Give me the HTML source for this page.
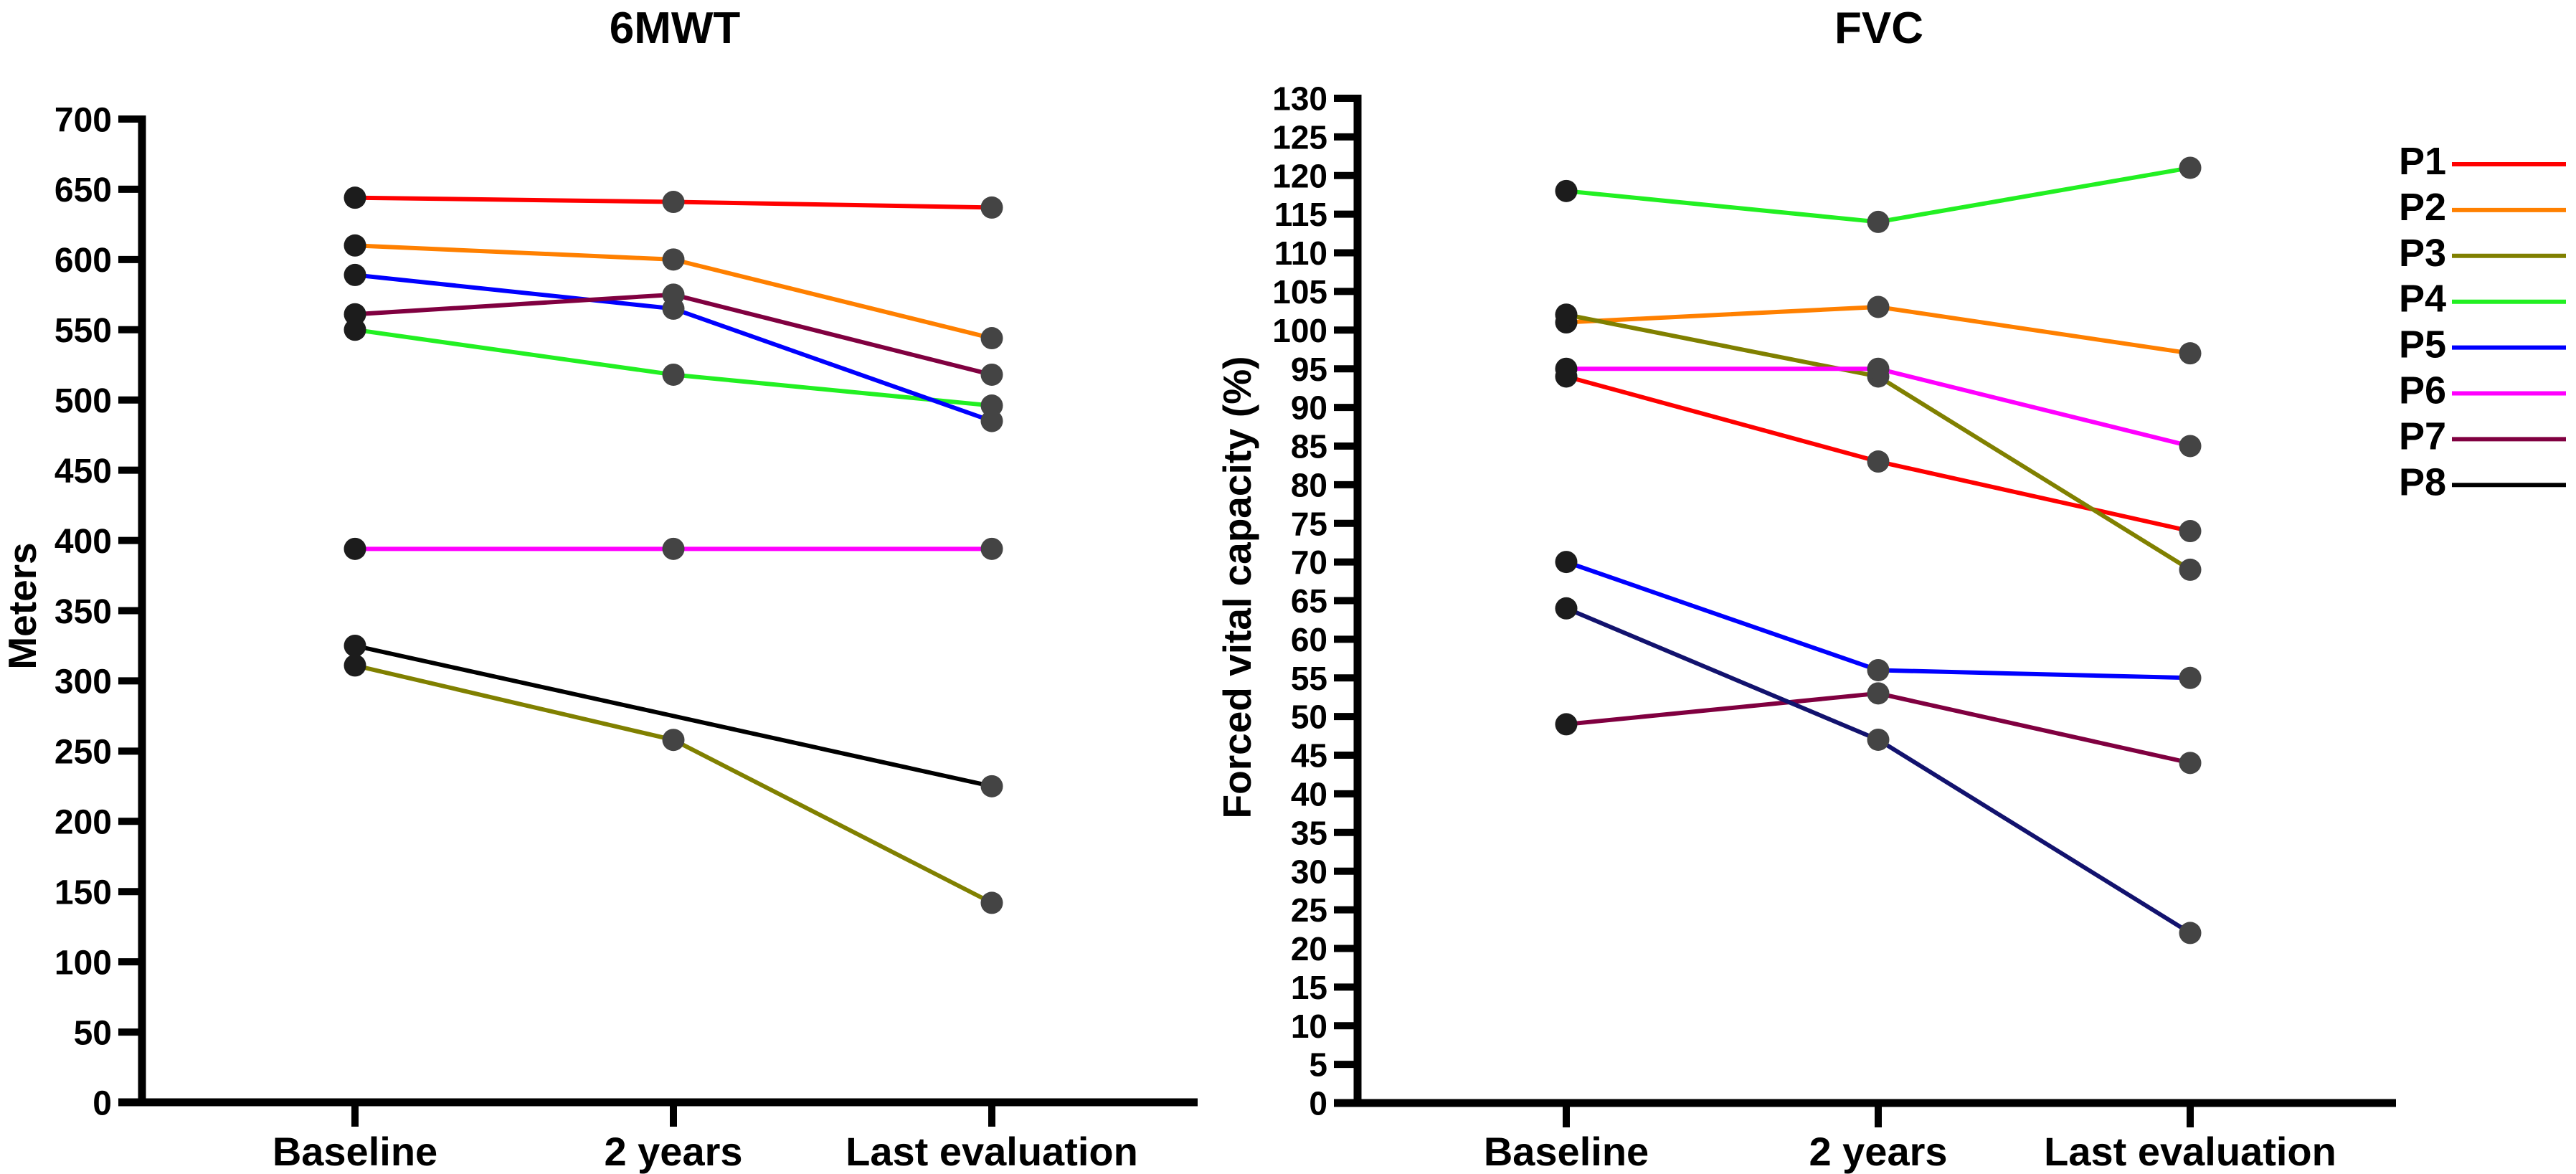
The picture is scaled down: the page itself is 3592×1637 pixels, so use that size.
<!DOCTYPE html>
<html><head><meta charset="utf-8"><style>
html,body{margin:0;padding:0;background:#fff;}
svg{display:block;font-family:"Liberation Sans",Arial,sans-serif;font-weight:bold;}
</style></head>
<body>
<svg id="chart" width="3592" height="1637" viewBox="0 0 3592 1637" xmlns="http://www.w3.org/2000/svg">
<text x="941" y="60" font-size="62" text-anchor="middle">6MWT</text>
<text x="2620" y="60" font-size="62" text-anchor="middle">FVC</text>
<text transform="translate(50,845) rotate(-90)" font-size="55" text-anchor="middle">Meters</text>
<text transform="translate(1744,819) rotate(-90)" font-size="55" text-anchor="middle">Forced vital capacity (%)</text>
<g id="left"></g>
<g id="right"></g>
<g id="legend"></g>
</svg>
<script>
const categories = ["Baseline","2 years","Last evaluation"];
const seriesNames = ["P1","P2","P3","P4","P5","P6","P7","P8"];
const sixMWT_P1 = [644,641,637];
const sixMWT_P2 = [610,600,544];
const sixMWT_P3 = [311,258,142];
const sixMWT_P4 = [550,518,496];
const sixMWT_P5 = [589,565,485];
const sixMWT_P6 = [394,394,394];
const sixMWT_P7 = [561,575,518];
const sixMWT_P8 = [325,null,225];
const fvc_P1 = [94,83,74];
const fvc_P2 = [101,103,97];
const fvc_P3 = [102,94,69];
const fvc_P4 = [118,114,121];
const fvc_P5 = [70,56,55];
const fvc_P6 = [95,95,85];
const fvc_P7 = [49,53,44];
const fvc_P8 = [64,47,22];
const leftTicks = [0,50,100,150,200,250,300,350,400,450,500,550,600,650,700];
const rightTicks = [0,5,10,15,20,25,30,35,40,45,50,55,60,65,70,75,80,85,90,95,100,105,110,115,120,125,130];

const colors = ["#ff0000","#ff8000","#808000","#22f022","#0000ff","#ff00ff","#800040","#000000"];
const NS="http://www.w3.org/2000/svg";
function mk(tag,attrs,parent){const e=document.createElementNS(NS,tag);for(const k in attrs)e.setAttribute(k,attrs[k]);parent.appendChild(e);return e;}

function drawPanel(g,cfg){
  const y=v=>cfg.y0+(v-cfg.min)/(cfg.max-cfg.min)*(cfg.y1-cfg.y0);
  const x=i=>cfg.xs[i];
  // axes
  const ya=mk('line',{x1:cfg.ax,y1:y(cfg.max)-5,x2:cfg.ax,y2:y(0)+5,stroke:'#000','stroke-width':11},g);
  
  
  const xa=mk('line',{x1:cfg.ax-33,y1:y(0),x2:cfg.xend,y2:y(0),stroke:'#000','stroke-width':11},g);
  
  
  cfg.ticks.forEach(t=>{
    const tl=mk('line',{x1:cfg.ax-33,y1:y(t),x2:cfg.ax,y2:y(t),stroke:'#000','stroke-width':10},g);
    
    
    const tx=mk('text',{x:cfg.ax-42,y:y(t)+cfg.fs*0.36,'font-size':cfg.fs,'text-anchor':'end'},g);
    tx.textContent=t;
    
    
  });
  categories.forEach((c,i)=>{
    const tl=mk('line',{x1:x(i),y1:y(0),x2:x(i),y2:y(0)+34,stroke:'#000','stroke-width':10},g);
    
    
    const tx=mk('text',{x:x(i),y:1625,'font-size':56,'text-anchor':'middle'},g);
    tx.textContent=c;
    
    
  });
  cfg.series.forEach((s,si)=>{
    const pts=[];s.forEach((v,i)=>{if(v!==null)pts.push(x(i)+','+y(v));});
    const pl=mk('polyline',{points:pts.join(' '),fill:'none',stroke:cfg.colors[si],'stroke-width':6,'stroke-linejoin':'round'},g);
    
    
  });
  cfg.series.forEach((s,si)=>{
    s.forEach((v,i)=>{
      if(v===null)return;
      const c=mk('circle',{cx:x(i),cy:y(v),r:15.5,fill:i===0?'#1c1c1c':'#444'},g);
      
      
    });
  });
}

drawPanel(document.getElementById('left'),{min:0,max:700,y0:1537,y1:166,ax:198,xend:1670,xs:[495,939,1383],ticks:leftTicks,fs:48,
  series:[sixMWT_P1,sixMWT_P2,sixMWT_P3,sixMWT_P4,sixMWT_P5,sixMWT_P6,sixMWT_P7,sixMWT_P8],colors:colors});
drawPanel(document.getElementById('right'),{min:0,max:130,y0:1538,y1:137,ax:1893,xend:3341,xs:[2184,2619,3054],ticks:rightTicks,fs:46,
  series:[fvc_P1,fvc_P2,fvc_P3,fvc_P4,fvc_P5,fvc_P6,fvc_P7,fvc_P8],colors:colors.slice(0,7).concat(["#12126e"])});

const lg=document.getElementById('legend');
seriesNames.forEach((n,i)=>{
  const yy=229+i*63.9;
  const t=mk('text',{x:3345,y:yy+14,'font-size':54},lg);
  t.textContent=n;
  
  
  const l=mk('line',{x1:3419,y1:yy,x2:3578,y2:yy,stroke:colors[i],'stroke-width':6},lg);
  
  
});
</script>
</body></html>
